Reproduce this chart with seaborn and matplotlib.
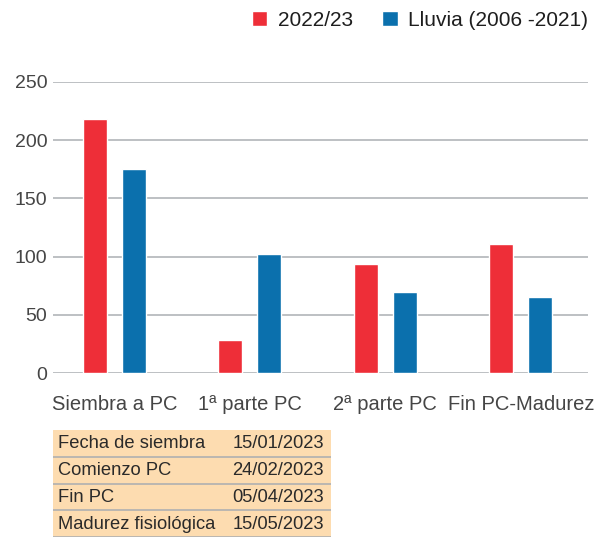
import matplotlib
matplotlib.use("Agg")
import matplotlib.pyplot as plt
import seaborn as sns
import pandas as pd

# Rainfall per crop period (mm)
periods = ["Siembra a PC", "1ª parte PC", "2ª parte PC", "Fin PC-Madurez"]
season_2022_23 = [218, 28, 94, 111]
lluvia_2006_2021 = [175, 102, 70, 65]
series_names = ["2022/23", "Lluvia (2006 -2021)"]

# Key dates of the crop cycle
table_labels = ["Fecha de siembra", "Comienzo PC", "Fin PC", "Madurez fisiológica"]
table_dates = ["15/01/2023", "24/02/2023", "05/04/2023", "15/05/2023"]
y_ticks = [0, 50, 100, 150, 200, 250]

colors = ["#EE2E38", "#0B70AD"]
text_color = "#454545"
grid_color = "#B8BBBE"

sns.set_theme(style="white")
plt.rcParams["font.family"] = ["Liberation Sans", "DejaVu Sans"]

df = pd.DataFrame({
    "periodo": periods * 2,
    "serie": [series_names[0]] * len(periods) + [series_names[1]] * len(periods),
    "lluvia": season_2022_23 + lluvia_2006_2021,
})

fig = plt.figure(figsize=(6.08, 5.38), dpi=100)
ax = fig.add_axes([53 / 608, 1 - 373 / 538, 535 / 608, 291 / 538])

sns.barplot(data=df, x="periodo", y="lluvia", hue="serie", palette=colors,
            width=0.574, gap=0.387, saturation=1, ax=ax, legend=True)

ax.set_xlim(-0.452, 3.496)
ax.set_ylim(0, 250)
ax.set_yticks(y_ticks)
ax.set_xlabel("")
ax.set_ylabel("")
for s in ax.spines.values():
    s.set_visible(False)
for yv in y_ticks:
    ax.axhline(yv, color=grid_color, lw=1.3, zorder=0)
ax.set_axisbelow(True)
ax.tick_params(axis="y", length=0, pad=4, labelsize=14, labelcolor=text_color)
ax.tick_params(axis="x", length=0, pad=16, labelsize=14.5, labelcolor=text_color)

handles, labels = ax.get_legend_handles_labels()
ax.get_legend().remove()
fig.legend(handles, labels, loc="center right", bbox_to_anchor=(588 / 608, 1 - 20 / 538),
           ncol=2, frameon=False, fontsize=15, handlelength=0.75, handleheight=0.75,
           handletextpad=0.5, columnspacing=1.4, borderaxespad=0, borderpad=0,
           labelcolor="#1e1e1e")

# Date table under the chart
tax = fig.add_axes([53 / 608, 1 - 537 / 538, 278 / 608, 107 / 538])
tax.set_xlim(0, 278)
tax.set_ylim(len(table_labels), 0)
tax.axis("off")
tax.axhspan(0, len(table_labels), color="#FDDCB0", zorder=0)
for i, (lab, date) in enumerate(zip(table_labels, table_dates)):
    tax.text(5, i + 0.52, lab, va="center", ha="left", fontsize=13.2, color="#2a2a2a")
    tax.text(271, i + 0.52, date, va="center", ha="right", fontsize=13.2, color="#2a2a2a")
    tax.axhline(i + 1, color="#B0B0B0", lw=1.2)

fig.savefig("out.png", dpi=100)
